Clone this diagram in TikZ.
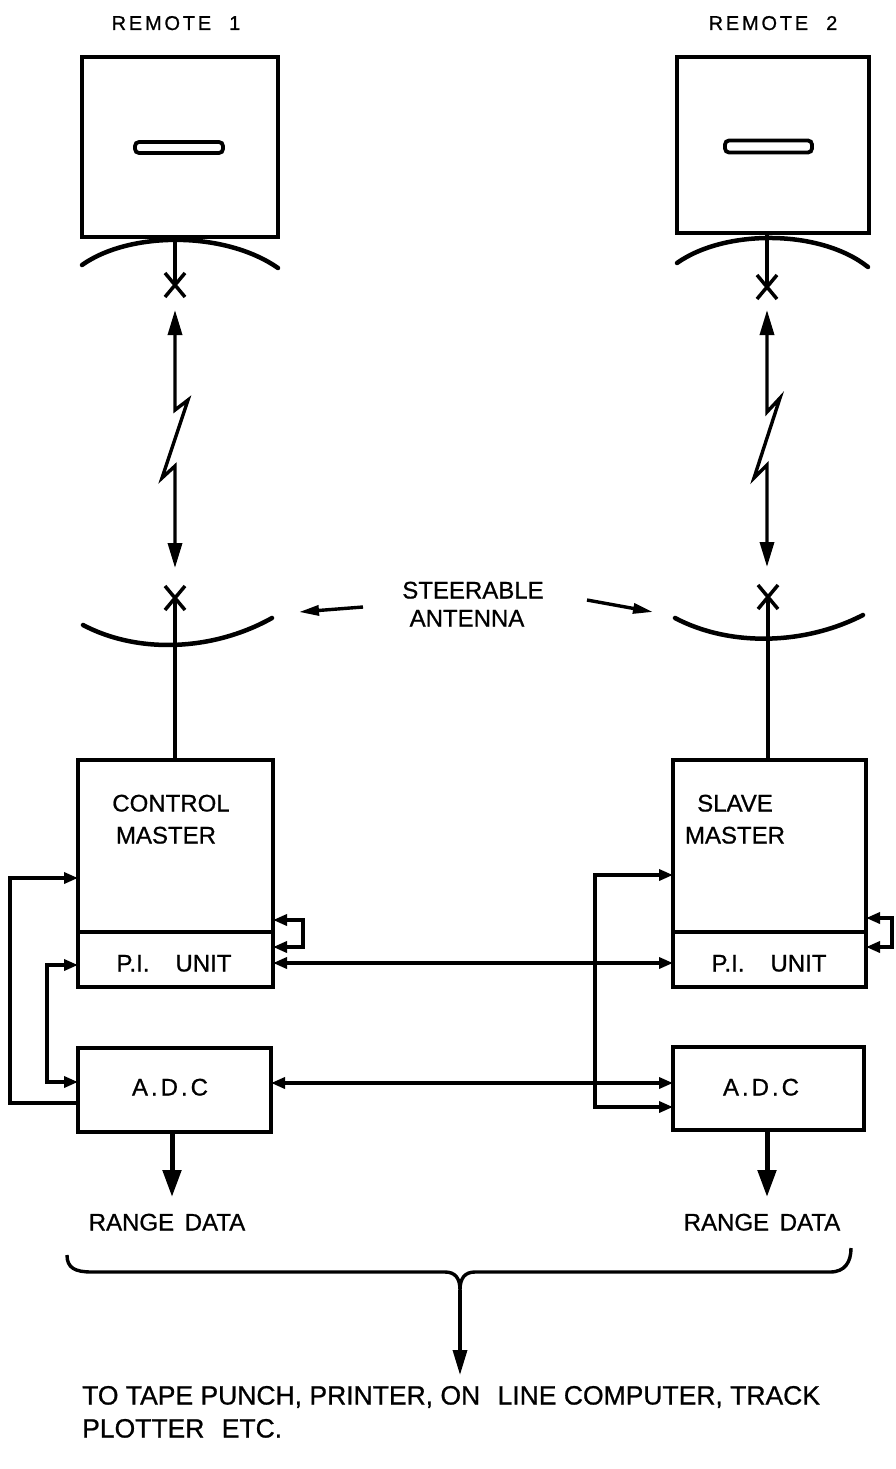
\documentclass[tikz,border=0pt]{standalone}
\usepackage{fontspec}
\newfontfamily\lett[FakeBold=0.8]{Liberation Sans}
\newfontfamily\letw[LetterSpace=14,FakeBold=0.8]{Liberation Sans}
\usetikzlibrary{arrows.meta}
\begin{document}
\begin{tikzpicture}[x=1pt,y=-1pt,
  box/.style={draw, line width=4pt, inner sep=0pt, outer sep=0pt},
  slotbox/.style={draw, line width=3.8pt, inner sep=0pt, outer sep=0pt, rounded corners=4pt},
  conn/.style={line width=3.4pt},
  ant/.style={line width=4.5pt, line cap=round},
  xmark/.style={line width=3.5pt},
  fat/.style={line width=5pt},
  lbl/.style={font=\lett\fontsize{24}{28}\selectfont, inner sep=0pt, text height=17pt, text depth=0pt},
  lblr/.style={font=\letw\fontsize{20}{24}\selectfont, inner sep=0pt, text height=14pt, text depth=0pt},
  lblb/.style={font=\lett\fontsize{26.5}{30}\selectfont, inner sep=0pt, text height=19pt, text depth=0pt},
  tipS/.tip={Triangle[length=14pt,width=11pt]},
  tipL/.tip={Triangle[length=25pt,width=14pt]},
  tipB/.tip={Triangle[length=27pt,width=18pt]},
  tipT/.tip={Triangle[length=20pt,width=10pt]}]
\useasboundingbox (0,0) rectangle (895,1469);

% boxes
\node[box, minimum width=196pt, minimum height=180pt] (rem1) at (180,147) {};
\node[box, minimum width=192pt, minimum height=176pt] (rem2) at (773,145) {};
\node[slotbox, minimum width=88pt, minimum height=11pt] (slot1) at (179,147.5) {};
\node[slotbox, minimum width=87pt, minimum height=12pt] (slot2) at (768.5,146.5) {};
\node[box, minimum width=195pt, minimum height=172pt] (cm) at (175.5,846) {};
\node[box, minimum width=195pt, minimum height=55pt] (pi1) at (175.5,959.5) {};
\node[box, minimum width=193pt, minimum height=84pt] (adc1) at (174.5,1090) {};
\node[box, minimum width=193pt, minimum height=172pt] (sm) at (769.5,846) {};
\node[box, minimum width=193pt, minimum height=55pt] (pi2) at (769.5,959.5) {};
\node[box, minimum width=191pt, minimum height=83pt] (adc2) at (768.5,1088.5) {};

% labels
\node[lblr] (r1) at (176,23) {REMOTE\hspace{18pt}1};
\node[lblr] (r2) at (773,23) {REMOTE\hspace{18pt}2};
\node[lbl] (st1) at (473,590) {STEERABLE};
\node[lbl] (st2) at (467,618) {ANTENNA};
\node[lbl] (cm1) at (171,803) {CONTROL};
\node[lbl] (cm2) at (166,835) {MASTER};
\node[lbl] (sm1) at (735,803) {SLAVE};
\node[lbl] (sm2) at (735,835) {MASTER};
\node[lbl] (pl1) at (174,963) {P.I.\hspace{26pt}UNIT};
\node[lbl] (pl2) at (769,963) {P.I.\hspace{26pt}UNIT};
\node[lbl] (al1) at (170,1087) {A\kern3pt.\kern3pt D\kern3pt.\kern3pt C};
\node[lbl] (al2) at (761,1087) {A\kern3pt.\kern3pt D\kern3pt.\kern3pt C};
\node[lbl] (rd1) at (167,1222) {RANGE\hspace{4pt} DATA};
\node[lbl] (rd2) at (762,1222) {RANGE\hspace{4pt} DATA};
\node[lblb, anchor=west] (bt1) at (82,1395) {TO TAPE PUNCH, PRINTER, ON\hspace{10pt} LINE COMPUTER, TRACK};
\node[lblb, anchor=west] (bt2) at (82,1428) {PLOTTER\hspace{10pt} ETC.};

% remote antennas (upper)
\draw[ant] (82,265) .. controls (130,231) and (225,231) .. (278,268);
\draw[ant] (677,263) .. controls (725,229) and (820,229) .. (868,267);
\coordinate (xa) at (175,285);
\coordinate (xb) at (767,287);
\draw[conn] (rem1.south -| xa) -- (xa);
\draw[conn] (rem2.south -| xb) -- (xb);
\draw[xmark] (165,273) -- (185,297) (185,273) -- (165,297);
\draw[xmark] (757,275) -- (777,299) (777,275) -- (757,299);

% radio links
\draw[conn, tipL-tipL] (175,310) -- (175,410) -- (188,400) -- (162,478) -- (175,466) -- (175,568);
\draw[conn, tipL-tipL] (767,310) -- (767,412) -- (780,398) -- (754,478) -- (767,465) -- (767,567);

% lower antennas
\coordinate (xc) at (175,598);
\coordinate (xd) at (768,597);
\draw[xmark] (165,586) -- (185,610) (185,586) -- (165,610);
\draw[xmark] (758,585) -- (778,609) (778,585) -- (758,609);
\draw[ant] (83,625) .. controls (140,655) and (215,650) .. (272,618);
\draw[ant] (675,618) .. controls (730,647) and (805,645) .. (863,615);
\draw[conn] (xc) -- (cm.north -| xc);
\draw[conn] (xd) -- (sm.north -| xd);

% steerable antenna pointers
\draw[conn, -tipT] (363,607) -- (299,612);
\draw[conn, -tipT] (587,600) -- (653,612);

% left side connectors
\draw[conn, -tipS] (adc1.west |- 0,1103) -- (10,1103) -- (10,878) -- (cm.west |- 0,878);
\draw[conn, tipS-tipS] (pi1.west |- 0,965) -- (47,965) -- (47,1082) -- (adc1.west |- 0,1082);
\draw[conn, tipS-tipS] (cm.east |- 0,920) -- (303,920) -- (303,947) -- (pi1.east |- 0,947);

% links between stations
\draw[conn, tipS-tipS] (pi1.east |- 0,963) -- (pi2.west |- 0,963);
\draw[conn, tipS-tipS] (adc1.east |- 0,1083) -- (adc2.west |- 0,1083);

% right side connectors
\draw[conn, tipS-tipS] (sm.west |- 0,875) -- (595,875) -- (595,1107) -- (adc2.west |- 0,1107);
\draw[conn, tipS-tipS] (sm.east |- 0,918) -- (892,918) -- (892,947) -- (pi2.east |- 0,947);

% range data
\draw[fat, -tipB] (adc1.south -| 172,0) -- (172,1197);
\draw[fat, -tipB] (adc2.south -| 767,0) -- (767,1197);

% brace
\coordinate (bp) at (460,1290);
\draw[conn] (67,1255) .. controls (67,1268) and (75,1272) .. (92,1272) -- (445,1272)
  .. controls (455,1272) and (460,1278) .. (bp)
  .. controls (460,1278) and (465,1272) .. (475,1272) -- (830,1272)
  .. controls (845,1272) and (851,1262) .. (851,1248);
\coordinate (bq) at (460,1375);
\draw[conn, -tipL] (bp) -- (bq);
\end{tikzpicture}
\end{document}
